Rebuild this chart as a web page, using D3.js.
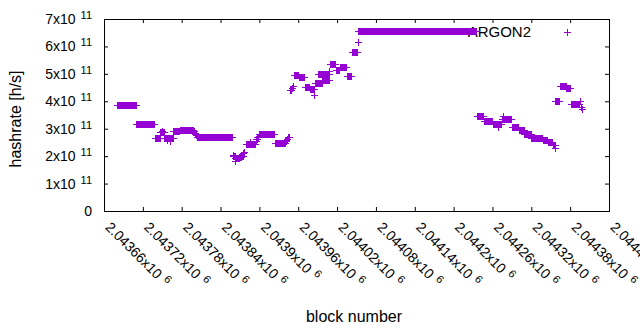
<!DOCTYPE html>
<html>
<head>
<meta charset="utf-8">
<script src="https://cdn.jsdelivr.net/npm/d3@7"></script>
<style>
  body { margin: 0; background: #fff; }
  text { font-family: "Liberation Sans", Arial, sans-serif; fill: #000; }
</style>
</head>
<body>
<div id="chart"></div>
<script>
// runs of consecutive blocks with the same hashrate
var runStart = [2043680, 2043710, 2043739, 2043747, 2043749, 2043753, 2043758, 2043762, 2043766, 2043777,
  2043799, 2043800, 2043801, 2043802, 2043803, 2043859, 2043860, 2043863, 2043863, 2043865, 2043869,
  2043873, 2043875, 2043876, 2043879, 2043886, 2043894, 2043895, 2043897, 2043899, 2043924, 2043940,
  2043942, 2043944, 2043948, 2043950, 2043952, 2043953, 2043961, 2043970, 2043978, 2043984, 2043986,
  2043991, 2043997, 2044008, 2044009, 2044018, 2044024, 2044035, 2044043, 2044052, 2044053, 2044236,
  2044247, 2044261, 2044269, 2044274, 2044277, 2044290, 2044301, 2044309, 2044320, 2044338, 2044346,
  2044353, 2044357, 2044357, 2044364, 2044374, 2044381, 2044395, 2044397, 2044399];
var runEnd = [2043709, 2043737, 2043746, 2043752, 2043749, 2043767, 2043758, 2043762, 2043776, 2043798,
  2043799, 2043800, 2043801, 2043802, 2043857, 2043859, 2043862, 2043864, 2043863, 2043868, 2043872,
  2043874, 2043875, 2043876, 2043893, 2043886, 2043894, 2043896, 2043898, 2043923, 2043939, 2043941,
  2043943, 2043946, 2043949, 2043951, 2043952, 2043960, 2043969, 2043977, 2043985, 2043984, 2043996,
  2044007, 2044007, 2044008, 2044017, 2044023, 2044034, 2044041, 2044051, 2044052, 2044234, 2044246,
  2044260, 2044273, 2044269, 2044289, 2044277, 2044300, 2044308, 2044319, 2044337, 2044345, 2044352,
  2044356, 2044357, 2044362, 2044373, 2044380, 2044394, 2044395, 2044397, 2044399];
var runValue = [3.86e11, 3.17e11, 2.66e11, 2.88e11, 2.93e11, 2.67e11, 2.60e11, 2.54e11, 2.90e11, 2.95e11,
  2.91e11, 2.86e11, 2.81e11, 2.76e11, 2.70e11, 2.05e11, 1.99e11, 1.95e11, 1.81e11, 1.92e11, 1.96e11,
  2.02e11, 2.10e11, 2.15e11, 2.44e11, 2.50e11, 2.55e11, 2.62e11, 2.70e11, 2.81e11, 2.47e11, 2.55e11,
  2.61e11, 2.70e11, 4.42e11, 4.50e11, 4.57e11, 4.96e11, 4.88e11, 4.52e11, 4.46e11, 4.24e11, 4.65e11,
  4.99e11, 4.76e11, 5.09e11, 5.36e11, 5.15e11, 5.24e11, 4.94e11, 5.79e11, 6.16e11, 6.55e11, 3.46e11,
  3.28e11, 3.17e11, 3.08e11, 3.37e11, 3.45e11, 3.07e11, 2.96e11, 2.82e11, 2.66e11, 2.60e11, 2.52e11,
  2.42e11, 2.30e11, 4.00e11, 4.57e11, 4.48e11, 3.90e11, 4.00e11, 3.80e11, 3.73e11];

var xTicks = [2043660, 2043720, 2043780, 2043840, 2043900, 2043960, 2044020, 2044080, 2044140,
  2044200, 2044260, 2044320, 2044380, 2044440];
var xTickLabels = ["2.04366", "2.04372", "2.04378", "2.04384", "2.0439", "2.04396", "2.04402",
  "2.04408", "2.04414", "2.0442", "2.04426", "2.04432", "2.04438", "2.04444"];
var yTicks = [0, 1e11, 2e11, 3e11, 4e11, 5e11, 6e11, 7e11];
var yTickLabels = ["0", "1", "2", "3", "4", "5", "6", "7"];

var seriesName = "ARGON2";
var color = "#9400d3";

var points = [];
runStart.forEach(function (s, i) {
  for (var b = s; b <= runEnd[i]; b++) points.push([b, runValue[i]]);
});

var width = 640, height = 330;
var plotLeft = 104, plotRight = 609, plotTop = 19, plotBottom = 211;

var svg = d3.select("#chart").append("svg")
  .attr("width", width)
  .attr("height", height);

var x = d3.scaleLinear().domain([2043660, 2044440]).range([plotLeft, plotRight]);
var y = d3.scaleLinear().domain([0, 7e11]).range([plotBottom, plotTop]);

// ticks point inward on all four sides
function tickAxis(axis, tr) {
  var g = svg.append("g").attr("transform", tr).call(axis);
  g.select(".domain").remove();
  g.selectAll("line").attr("stroke", "#000");
}
tickAxis(d3.axisBottom(x).tickValues(xTicks).tickSize(-4).tickFormat(""), "translate(0," + plotBottom + ")");
tickAxis(d3.axisTop(x).tickValues(xTicks).tickSize(-4).tickFormat(""), "translate(0," + plotTop + ")");
tickAxis(d3.axisLeft(y).tickValues(yTicks).tickSize(-4).tickFormat(""), "translate(" + plotLeft + ",0)");
tickAxis(d3.axisRight(y).tickValues(yTicks).tickSize(-4).tickFormat(""), "translate(" + plotRight + ",0)");

svg.append("rect")
  .attr("x", plotLeft + 0.5).attr("y", plotTop + 0.5)
  .attr("width", plotRight - plotLeft).attr("height", plotBottom - plotTop)
  .attr("fill", "none").attr("stroke", "#000");

// y tick labels
var yl = svg.append("g").selectAll("text")
  .data(yTicks)
  .enter()
  .append("text")
  .attr("x", 92)
  .attr("y", (d) => y(d) + 5)
  .attr("text-anchor", "end")
  .style("font-size", "14px");
yl.append("tspan").text((d, i) => d === 0 ? yTickLabels[i] : yTickLabels[i] + "x10");
yl.filter((d) => d !== 0).append("tspan")
  .attr("dx", 5).attr("dy", -5)
  .style("font-size", "11px")
  .text("11");

// x tick labels, rotated
var xl = svg.append("g").selectAll("text")
  .data(xTicks)
  .enter()
  .append("text")
  .attr("transform", (d) => "translate(" + (x(d) + 0.5) + ",228) rotate(45)")
  .style("font-size", "14px");
xl.append("tspan").text((d, i) => xTickLabels[i] + "x10");
xl.append("tspan")
  .attr("dx", 5).attr("dy", -5)
  .style("font-size", "11px")
  .text("6");

svg.append("text")
  .attr("transform", "translate(21,119) rotate(-90)")
  .attr("text-anchor", "middle")
  .style("font-size", "16px")
  .text("hashrate [h/s]");

svg.append("text")
  .attr("x", 354)
  .attr("y", 322)
  .attr("text-anchor", "middle")
  .style("font-size", "16px")
  .text("block number");

// key
svg.append("text")
  .attr("x", 531)
  .attr("y", 37)
  .attr("text-anchor", "end")
  .style("font-size", "15px")
  .text(seriesName);

var cross = "M-3.5,0H3.5M0,-3.5V3.5";
svg.append("path")
  .attr("d", cross)
  .attr("transform", "translate(567.5,32.5)")
  .attr("stroke", color)
  .attr("fill", "none");

svg.append("g")
  .selectAll("path")
  .data(points)
  .enter()
  .append("path")
  .attr("d", cross)
  .attr("transform", (d) => "translate(" + (Math.round(x(d[0])) + 0.5) + "," + (Math.round(y(d[1])) + 0.5) + ")")
  .attr("stroke", color)
  .attr("fill", "none");
</script>
</body>
</html>
